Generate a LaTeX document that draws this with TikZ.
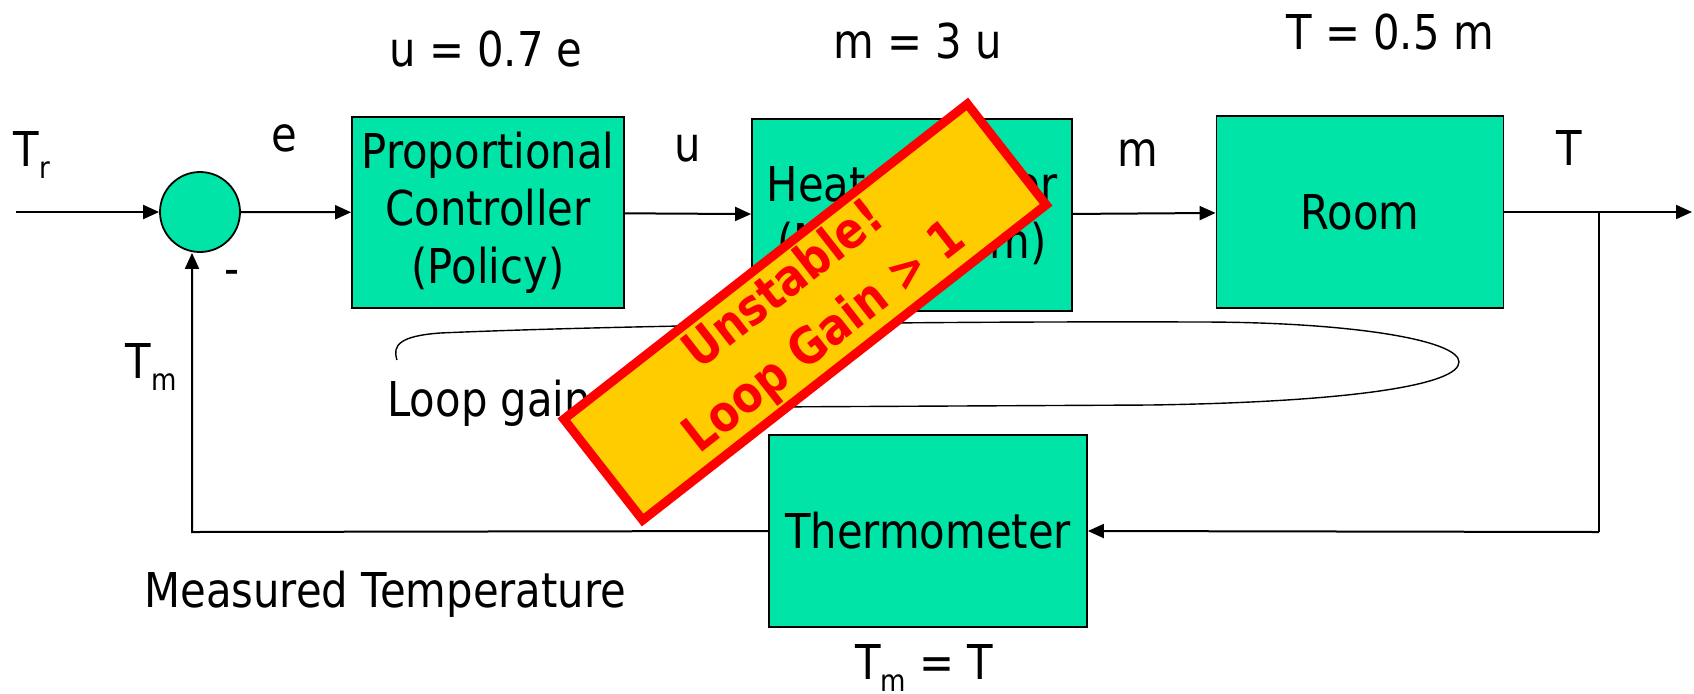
\documentclass[tikz,border=0pt]{standalone}
\usepackage{fontspec}
\setmainfont{DejaVu Sans}[FakeStretch=0.87]
\usepackage{xcolor}
\usepackage{tikz}
\usetikzlibrary{arrows.meta}

\definecolor{blockgreen}{RGB}{0,228,168}
\definecolor{warngold}{RGB}{255,204,0}
\newcommand{\lsub}[1]{\raisebox{-0.45ex}{\fontsize{15}{15}\selectfont #1}}

\begin{document}
\begin{tikzpicture}[x=0.5pt, y=-0.5pt,
    >={Triangle[length=8pt,width=7pt]},
    every node/.style={font=\fontsize{24}{28.8}\selectfont},
    block/.style={draw=black, line width=0.9pt, fill=blockgreen,
      align=center, inner sep=0pt},
    sumnode/.style={circle, draw=black, line width=0.9pt, fill=blockgreen,
      minimum size=40pt, inner sep=0pt},
    lbl/.style={inner sep=0pt},
    banner/.style={draw=red, line width=4.5pt, fill=warngold, text=red,
      font=\bfseries\fontsize{25}{33}\selectfont, align=center,
      minimum width=256pt, minimum height=64pt, inner sep=0pt}]
    \useasboundingbox (0,0) rectangle (1694,693);

    % Blocks
    \node[sumnode] (sum) at (200,212) {};
    \node[block, minimum width=136pt, minimum height=95.5pt] (ctrl) at (488,212.5)
      {Proportional\\Controller\\(Policy)};
    \node[block, minimum width=160pt, minimum height=96pt] (heater) at (912,215)
      {Heater/Cooler\\(Mechanism)};
    \node[block, minimum width=143.5pt, minimum height=96pt] (room) at (1360,212)
      {Room};
    \node[block, minimum width=159pt, minimum height=96pt] (thermo) at (928,531)
      {Thermometer};

    % Signal points
    \coordinate (in) at (16,212);
    \coordinate (out) at (1692,212);
    \coordinate (tap) at (1599,212);
    \coordinate (tapdown) at (1599,532);
    \coordinate (fb) at (192,532);

    % Forward path
    \draw[->, line width=1pt] (in) -- (sum);
    \draw[->, line width=1pt] (sum) -- (ctrl);
    \draw[->, line width=1pt] (ctrl) -- (heater);
    \draw[->, line width=1pt] (heater) -- (room);
    \draw[->, line width=1pt] (room) -- (out);

    % Feedback path
    \draw[line width=1pt] (tap) -- (tapdown);
    \draw[->, line width=1pt] (tapdown) -- (thermo.east);
    \draw[->, line width=1pt] (thermo.west) -- (fb) -- (fb |- sum.south);

    % Signal labels
    \node[lbl] (tr) at (32,155) {T\lsub{r}};
    \node[lbl] (e) at (284,138) {e};
    \node[lbl] (minus) at (232,278) {-};
    \node[lbl] (tm) at (151,367) {T\lsub{m}};
    \node[lbl] (u) at (688,148) {u};
    \node[lbl] (m) at (1138,153) {m};
    \node[lbl] (t) at (1569,148) {T};

    % Block equations
    \node[lbl] (equ) at (486,49) {u = 0.7 e};
    \node[lbl] (eqm) at (918,41) {m = 3 u};
    \node[lbl] (eqt) at (1390,32) {T = 0.5 m};
    \node[lbl] (eqtm) at (924,668) {T\lsub{m} = T};
    \node[lbl, anchor=west] (meas) at (144,594) {Measured Temperature};

    % Loop sketch
    \draw[line width=0.7pt] (397,360) .. controls (392,345) and (400,336) .. (440,333)
      .. controls (600,326) and (900,321) .. (1200,322)
      .. controls (1350,322) and (1459,340) .. (1459,362)
      .. controls (1459,385) and (1350,402) .. (1150,405) -- (760,407);
    \node[lbl, anchor=west] (loop) at (387,403) {Loop gain};

    % Warning banner
    \node[banner, rotate=38] (warn) at (805,312) {Unstable!\\Loop Gain > 1};
\end{tikzpicture}
\end{document}
